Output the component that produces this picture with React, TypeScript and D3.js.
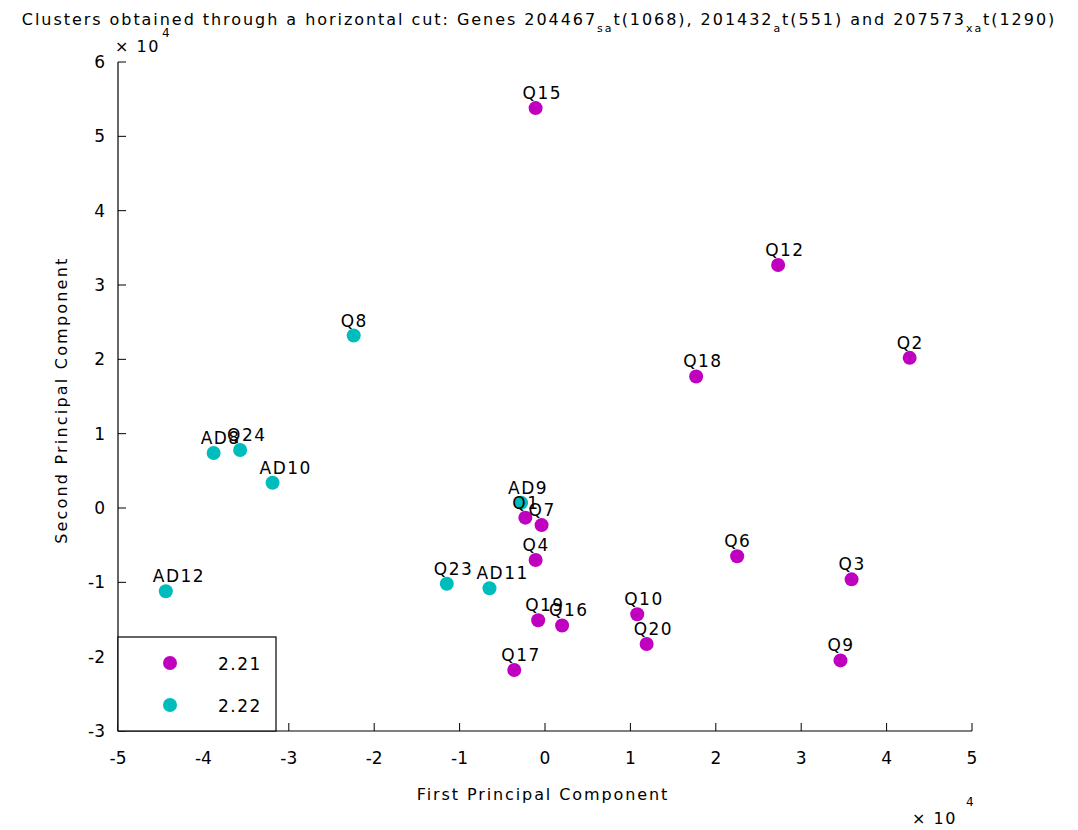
import React from "react";
import * as d3 from "d3";

// Sample labels, cluster heights and principal-component scores (×10^4)
const labels = ["Q15","Q12","Q2","Q18","Q8","AD8","Q24","AD10","AD9","Q1","Q7","Q4","Q6","Q3","AD12","Q23","AD11","Q10","Q19","Q16","Q20","Q9","Q17"];
const pc1 = [-0.11,2.73,4.27,1.77,-2.24,-3.88,-3.57,-3.19,-0.28,-0.23,-0.04,-0.11,2.25,3.59,-4.44,-1.15,-0.65,1.08,-0.08,0.20,1.19,3.46,-0.36];
const pc2 = [5.38,3.27,2.02,1.77,2.32,0.74,0.78,0.34,0.07,-0.13,-0.23,-0.70,-0.65,-0.96,-1.12,-1.02,-1.08,-1.43,-1.51,-1.58,-1.83,-2.05,-2.18];
const cluster = ["2.21","2.21","2.21","2.21","2.22","2.22","2.22","2.22","2.22","2.21","2.21","2.21","2.21","2.21","2.22","2.22","2.22","2.21","2.21","2.21","2.21","2.21","2.21"];
const clusterNames = ["2.21", "2.22"];
const clusterColors = ["#bf00bf", "#00bdbd"];
const xTicks = [-5,-4,-3,-2,-1,0,1,2,3,4,5];
const yTicks = [-3,-2,-1,0,1,2,3,4,5,6];

const W = 1078, H = 830;
const left = 118, right = 972, top = 62, bottom = 731;
const font = "'DejaVu Sans', 'Liberation Sans', sans-serif";

export default function App() {
  const x = d3.scaleLinear().domain([-5, 5]).range([left, right]);
  const y = d3.scaleLinear().domain([-3, 6]).range([bottom, top]);
  const color = d3.scaleOrdinal<string, string>().domain(clusterNames).range(clusterColors);

  return (
    <svg width={W} height={H} style={{ position: "absolute", left: 0, top: 0, background: "#fff" }} fontFamily={font}>
      {/* title */}
      <text x={539} y={25} textAnchor="middle" fontSize={16} letterSpacing={1.95} fill="#000">
        Clusters obtained through a horizontal cut: Genes 204467
        <tspan fontSize={11} dy={7}>sa</tspan>
        <tspan dy={-7}>t(1068), 201432</tspan>
        <tspan fontSize={11} dy={7}>a</tspan>
        <tspan dy={-7}>t(551) and 207573</tspan>
        <tspan fontSize={11} dy={7}>xa</tspan>
        <tspan dy={-7}>t(1290)</tspan>
      </text>

      {/* axes */}
      <line x1={left} x2={left} y1={top} y2={bottom} stroke="#000" strokeWidth={1.2} />
      <line x1={left} x2={right} y1={bottom} y2={bottom} stroke="#000" strokeWidth={1.2} />
      {xTicks.map((t) => (
        <g key={"x" + t}>
          <line x1={x(t)} x2={x(t)} y1={bottom} y2={bottom - 8} stroke="#000" />
          <text x={x(t)} y={bottom + 33} textAnchor="middle" fontSize={17}>{t}</text>
        </g>
      ))}
      {yTicks.map((t) => (
        <g key={"y" + t}>
          <line x1={left} x2={left + 8} y1={y(t)} y2={y(t)} stroke="#000" />
          <text x={left - 13} y={y(t) + 6} textAnchor="end" fontSize={17}>{t}</text>
        </g>
      ))}

      {/* exponent markers */}
      <text x={115} y={52} fontSize={16} letterSpacing={1.5}>× 10</text>
      <text x={162} y={37} fontSize={12}>4</text>
      <text x={912} y={824} fontSize={16} letterSpacing={1.5}>× 10</text>
      <text x={966} y={806} fontSize={12}>4</text>

      {/* axis labels */}
      <text x={543} y={800} textAnchor="middle" fontSize={16} letterSpacing={1.9}>First Principal Component</text>
      <text transform={`translate(67, ${y(1.45)}) rotate(-90)`} textAnchor="middle" fontSize={16} letterSpacing={2.2}>Second Principal Component</text>

      {/* points */}
      {labels.map((l, i) => (
        <g key={l}>
          <circle cx={x(pc1[i])} cy={y(pc2[i])} r={7} fill={color(cluster[i])} />
          <text x={x(pc1[i]) - 13} y={y(pc2[i]) - 9} fontSize={17} letterSpacing={1.5}>{l}</text>
        </g>
      ))}

      {/* legend */}
      <rect x={left} y={637} width={158} height={bottom - 637} fill="#fff" stroke="#000" strokeWidth={1.2} />
      {clusterNames.map((c, i) => (
        <g key={c}>
          <circle cx={170} cy={663 + i * 42} r={7} fill={color(c)} />
          <text x={218} y={670 + i * 42} fontSize={17} letterSpacing={1.5}>{c}</text>
        </g>
      ))}
    </svg>
  );
}
